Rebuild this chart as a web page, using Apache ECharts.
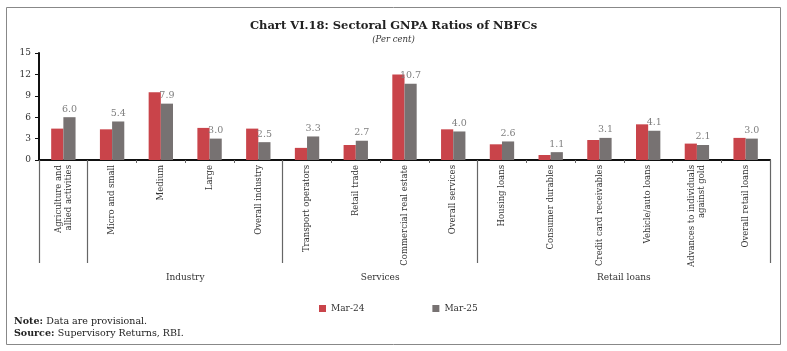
<!DOCTYPE html>
<html><head><meta charset="utf-8">
<script src="https://cdn.jsdelivr.net/npm/echarts@6/dist/echarts.min.js"></script>
<style>html,body{margin:0;padding:0;background:#fff}#c{width:787px;height:351px}</style>
</head><body><div id="c"></div>
<script>
const categories = ["Agriculture and\nallied activities","Micro and small","Medium","Large","Overall industry","Transport operators","Retail trade","Commercial real estate","Overall services","Housing loans","Consumer durables","Credit card receivables","Vehicle/auto loans","Advances to individuals\nagainst gold","Overall retail loans"];
const mar24 = [4.4,4.3,9.5,4.5,4.4,1.7,2.1,12.0,4.3,2.2,0.7,2.8,5.0,2.3,3.1];
const mar25 = [6.0,5.4,7.9,3.0,2.5,3.3,2.7,10.7,4.0,2.6,1.1,3.1,4.1,2.1,3.0];
const groupNames = ["Industry","Services","Retail loans"];
const groupCenters = [3,7,12];
const groupBounds = [0,1,5,9,15];
const yTicks = [0,3,6,9,12,15];

const F = "'DejaVu Serif', serif";
const chart = echarts.init(document.getElementById('c'), null, {renderer:'canvas'});
chart.setOption({
  animation:false,
  backgroundColor:'#fff',
  textStyle:{fontFamily:F},
  title:{
    text:'Chart VI.18: Sectoral GNPA Ratios of NBFCs',
    subtext:'(Per cent)',
    left:'center', top:15, itemGap:3,
    textStyle:{fontFamily:F,fontSize:11.5,fontWeight:'bold',color:'#222'},
    subtextStyle:{fontFamily:F,fontSize:8.5,fontStyle:'italic',color:'#333'}
  },
  legend:{
    left:314, top:299, itemWidth:7, itemHeight:7, itemGap:68,
    icon:'rect',
    textStyle:{fontFamily:F,fontSize:9,color:'#333'},
    data:['Mar-24','Mar-25']
  },
  grid:{left:39,right:17,top:53,bottom:191,containLabel:false},
  xAxis:[{
    type:'category', data:categories,
    axisLine:{lineStyle:{color:'#111',width:2}},
    axisTick:{show:true,length:3,lineStyle:{color:'#666'}},
    axisLabel:{rotate:90,interval:0,fontFamily:F,fontSize:8.5,color:'#333',lineHeight:10,margin:5}
  },{
    type:'value', min:0, max:15, position:'bottom',
    axisLine:{show:false}, splitLine:{show:false},
    axisTick:{show:true,customValues:groupBounds,length:103,lineStyle:{color:'#666',width:1.2}},
    axisLabel:{show:true,customValues:groupCenters,margin:113,fontFamily:F,fontSize:9,color:'#333',
      formatter:function(v){const i=groupCenters.indexOf(v);return i>=0?groupNames[i]:'';}}
  }],
  yAxis:{
    type:'value', min:0, max:15, interval:3,
    axisLine:{show:true,lineStyle:{color:'#111',width:2}},
    axisTick:{show:true,length:4,lineStyle:{color:'#111'}},
    splitLine:{show:false},
    axisLabel:{fontFamily:F,fontSize:9,color:'#333',margin:8,
      formatter:function(v){return yTicks.indexOf(v)>=0?String(v):'';}}
  },
  series:[{
    name:'Mar-24', type:'bar', data:mar24, barGap:'0%', barCategoryGap:'50%',
    itemStyle:{color:'#C9444A'}
  },{
    name:'Mar-25', type:'bar', data:mar25, barGap:'0%', barCategoryGap:'50%',
    itemStyle:{color:'#777272'},
    label:{show:true,position:'top',distance:3,fontFamily:F,fontSize:9.5,color:'#808080',
      formatter:function(p){return p.value.toFixed(1);}}
  }],
  graphic:[
    {type:'rect',shape:{x:6.5,y:7.5,width:774,height:337},style:{fill:'none',stroke:'#888',lineWidth:1},silent:true},
    {type:'text',left:14,top:316,style:{rich:{b:{fontFamily:F,fontSize:9.5,fontWeight:'bold',fill:'#222'},n:{fontFamily:F,fontSize:9.5,fill:'#222'}},
      text:'{b|Note:} {n|Data are provisional.}\n{b|Source:} {n|Supervisory Returns, RBI.}',lineHeight:12}}
  ]
});
</script></body></html>
